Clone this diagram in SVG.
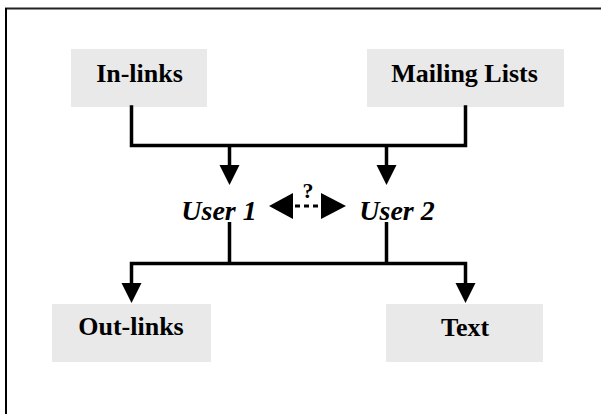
<svg xmlns="http://www.w3.org/2000/svg" width="601" height="414" viewBox="0 0 601 414">
<style>
.box{fill:#e9e9e9;stroke:none}
.lbl{font-family:"Liberation Serif","Times New Roman",serif;font-weight:bold;font-size:26px;fill:#000;text-anchor:middle}
.usr{font-family:"Liberation Serif","Times New Roman",serif;font-weight:bold;font-style:italic;font-size:28px;fill:#000;text-anchor:middle}
.ln{fill:none;stroke:#000;stroke-width:3.5;stroke-linejoin:miter;stroke-linecap:square}
.head{fill:#000;stroke:none}
</style>
<rect width="601" height="414" fill="#fff"/>
<g id="frame">
<line x1="5" y1="8.5" x2="601" y2="8.5" stroke="#222" stroke-width="2"/>
<line x1="6" y1="8" x2="6" y2="414" stroke="#000" stroke-width="2"/>
</g>
<g id="in-links"><rect class="box" x="71" y="49" width="136" height="58"/><text class="lbl" x="139.5" y="82">In-links</text></g>
<g id="mailing-lists"><rect class="box" x="367" y="49" width="197" height="58"/><text class="lbl" x="464.5" y="82">Mailing Lists</text></g>
<g id="user1"><text class="usr" x="219" y="220">User 1</text></g>
<g id="user2"><text class="usr" x="397" y="220">User 2</text></g>
<g id="out-links"><rect class="box" x="52" y="304" width="159" height="58"/><text class="lbl" x="131" y="335">Out-links</text></g>
<g id="text"><rect class="box" x="386" y="304" width="157" height="58"/><text class="lbl" x="465" y="336">Text</text></g>
<g id="connectors">
<path class="ln" d="M131.5,107 V145.5 H465.5 V107"/>
<line class="ln" x1="229.5" y1="145.5" x2="229.5" y2="166" style="stroke-linecap:butt"/>
<path class="head" d="M219.5,165 L239.5,165 L229.5,185 Z"/>
<line class="ln" x1="386.5" y1="145.5" x2="386.5" y2="166" style="stroke-linecap:butt"/>
<path class="head" d="M376.5,165 L396.5,165 L386.5,185 Z"/>
<path class="ln" d="M229.5,222 V263.5" style="stroke-linecap:butt"/>
<path class="ln" d="M386.5,222 V263.5" style="stroke-linecap:butt"/>
<path class="ln" d="M131.5,284 V263.5 H465.5 V284" style="stroke-linecap:butt"/>
<path class="head" d="M121.5,283 L141.5,283 L131.5,303 Z"/>
<path class="head" d="M455.5,283 L475.5,283 L465.5,303 Z"/>
<path class="head" d="M269,206 L293,193 L293,219 Z"/>
<path class="head" d="M346,206 L321,193 L321,219 Z"/>
<line x1="295" y1="206" x2="319" y2="206" stroke="#000" stroke-width="3" stroke-dasharray="5,4"/>
<text x="308" y="198" style="font-family:'Liberation Serif','Times New Roman',serif;font-weight:bold;font-size:22px;text-anchor:middle">?</text>
</g>
</svg>
